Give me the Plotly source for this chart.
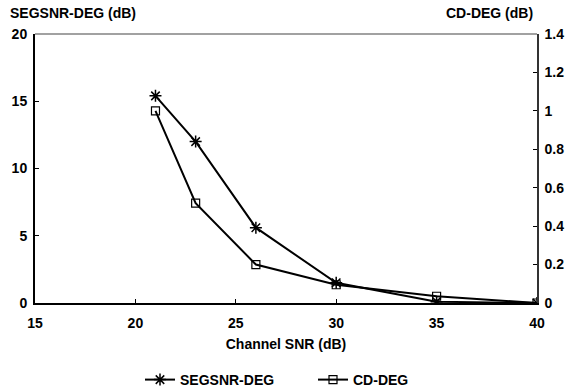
import plotly.graph_objects as go

snr = [21, 23, 26, 30, 35, 40]
segsnr_deg = [15.4, 12.0, 5.6, 1.5, 0.1, 0.0]
cd_deg = [1.0, 0.52, 0.20, 0.095, 0.035, 0.0]

x_ticks = [15, 20, 25, 30, 35, 40]
y1_ticks = [0, 5, 10, 15, 20]
y2_ticks = [0, 0.2, 0.4, 0.6, 0.8, 1, 1.2, 1.4]
y2_labels = ["0", "0.2", "0.4", "0.6", "0.8", "1", "1.2", "1.4"]

FONT = "Liberation Sans, Arial, sans-serif"
F = dict(size=14, family=FONT, weight="bold", color="black")

fig = go.Figure()
fig.add_trace(go.Scatter(
    x=snr, y=segsnr_deg, name="SEGSNR-DEG", mode="lines+markers",
    line=dict(color="black", width=2),
    marker=dict(symbol="asterisk-open", size=10, color="black",
                line=dict(color="black", width=1.5)),
    yaxis="y"))
fig.add_trace(go.Scatter(
    x=snr, y=cd_deg, name="CD-DEG", mode="lines+markers",
    line=dict(color="black", width=2),
    marker=dict(symbol="square-open", size=8, color="black",
                line=dict(color="black", width=1.2)),
    yaxis="y2"))

fig.update_layout(
    width=576, height=392,
    margin=dict(l=33, r=29, t=34, b=89),
    paper_bgcolor="white", plot_bgcolor="white",
    font=F,
    showlegend=True,
    legend=dict(orientation="h", xref="container", yref="container",
                x=140 / 576, xanchor="left", y=1 - 380 / 392, yanchor="middle",
                font=F, entrywidth=128, entrywidthmode="pixels",
                itemwidth=30, tracegroupgap=0),
    xaxis=dict(range=[15, 40], tickvals=x_ticks, ticks="inside", ticklen=4,
               tickcolor="black", showgrid=False, zeroline=False,
               showline=True, linecolor="black", linewidth=1.5, mirror=False,
               ticklabelstandoff=6,
               title=dict(text="Channel SNR (dB)", standoff=10, font=F),
               tickfont=F),
    yaxis=dict(range=[0, 20], tickvals=y1_ticks, ticks="inside", ticklen=4,
               tickcolor="black", showgrid=False, zeroline=False,
               showline=True, linecolor="black", linewidth=2,
               ticklabelstandoff=3, tickfont=F),
    yaxis2=dict(range=[0, 1.4], tickvals=y2_ticks, ticktext=y2_labels,
                overlaying="y", side="right",
                ticks="inside", ticklen=4, tickcolor="black", showgrid=False,
                zeroline=False, showline=True, linecolor="#333", linewidth=1.5,
                ticklabelstandoff=3, tickfont=F),
    shapes=[dict(type="line", xref="paper", yref="paper", x0=0, x1=1, y0=1, y1=1,
                 line=dict(color="#444", width=1.2))],
    annotations=[
        dict(text="SEGSNR-DEG (dB)", xref="paper", yref="paper",
             x=(5 - 33) / 514, y=1.0, xanchor="left", yanchor="bottom",
             yshift=11, showarrow=False, font=F),
        dict(text="CD-DEG (dB)", xref="paper", yref="paper",
             x=(545 - 33) / 514, y=1.0, xanchor="right", yanchor="bottom",
             yshift=11, showarrow=False, font=F),
    ],
)

fig.write_html("out.html")
